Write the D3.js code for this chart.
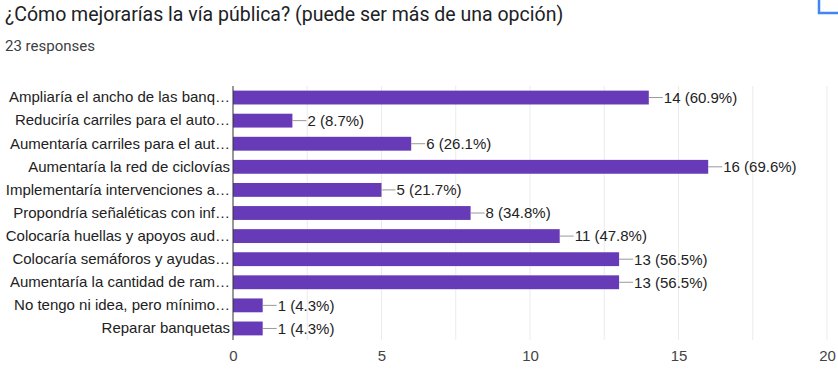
<!DOCTYPE html>
<html>
<head>
<meta charset="utf-8">
<script src="https://cdn.jsdelivr.net/npm/d3@7"></script>
<style>
  body { margin: 0; background: #fff; }
  svg { display: block; font-family: "Liberation Sans", Arial, sans-serif; }
</style>
</head>
<body>
<svg id="chart" width="838" height="377"></svg>
<script>
// data
var categories = [
  "Ampliaría el ancho de las banq…",
  "Reduciría carriles para el auto…",
  "Aumentaría carriles para el aut…",
  "Aumentaría la red de ciclovías",
  "Implementaría intervenciones a…",
  "Propondría señaléticas con inf…",
  "Colocaría huellas y apoyos aud…",
  "Colocaría semáforos y ayudas…",
  "Aumentaría la cantidad de ram…",
  "No tengo ni idea, pero mínimo…",
  "Reparar banquetas"
];
var counts = [14, 2, 6, 16, 5, 8, 11, 13, 13, 1, 1];
var percents = ["60.9", "8.7", "26.1", "69.6", "21.7", "34.8", "47.8", "56.5", "56.5", "4.3", "4.3"];
var xTicks = [0, 5, 10, 15, 20];
var gridTicks = [2.5, 5, 7.5, 10, 12.5, 15, 17.5, 20];

var svg = d3.select('#chart');
var margin = { top: 86, right: 11, bottom: 37, left: 233 };
var width = 838 - margin.left - margin.right;
var height = 377 - margin.top - margin.bottom;
var chartFont = '"Liberation Sans", Arial, sans-serif';

// header
svg.append('text')
  .attr('x', 5).attr('y', 21)
  .style('font-family', 'Roboto, Arial, sans-serif')
  .style('font-size', '19.5px').style('fill', '#202124')
  .text('¿Cómo mejorarías la vía pública? (puede ser más de una opción)');
svg.append('text')
  .attr('x', 5).attr('y', 51)
  .style('font-family', 'Roboto, Arial, sans-serif')
  .style('font-size', '15px').style('fill', '#3c4043')
  .text('23 responses');

// copy icon, cut off on the right edge
svg.append('path')
  .attr('d', 'M819,0 V13 H838')
  .attr('fill', 'none').attr('stroke', '#4285f4').attr('stroke-width', 2.5);

var g = svg.append('g').attr('transform', `translate(${margin.left},${margin.top})`);

var x = d3.scaleLinear().domain([0, 20]).range([0, width]);
var y = d3.scaleBand().domain(categories).range([0, height]).paddingInner(0.4).paddingOuter(0.2);

// grid
g.selectAll('.grid')
  .data(gridTicks)
  .enter().append('line')
  .attr('x1', d => x(d)).attr('x2', d => x(d))
  .attr('y1', 0).attr('y2', height)
  .attr('stroke', '#ebebeb').attr('stroke-width', 1);

// x labels
g.append('g')
  .attr('transform', `translate(0,${height})`)
  .call(d3.axisBottom(x).tickValues(xTicks).tickSize(0).tickPadding(10))
  .call(a => a.select('.domain').remove())
  .call(a => a.attr('font-family', null).attr('font-size', null))
  .selectAll('text')
  .style('font-size', '15px').style('fill', '#444').style('font-family', chartFont);

// y labels
g.append('g')
  .call(d3.axisLeft(y).tickSize(0).tickPadding(3))
  .call(a => a.select('.domain').remove())
  .call(a => a.attr('font-family', null).attr('font-size', null))
  .selectAll('text')
  .style('font-size', '15px').style('fill', '#222').style('font-family', chartFont);

// bars
g.selectAll('.bar')
  .data(counts)
  .enter().append('rect')
  .attr('x', 0)
  .attr('y', (d, i) => y(categories[i]))
  .attr('width', d => x(d))
  .attr('height', y.bandwidth())
  .attr('fill', '#673ab7');

// leader lines + value labels
g.selectAll('.lead')
  .data(counts)
  .enter().append('line')
  .attr('x1', d => x(d)).attr('x2', d => x(d) + 14)
  .attr('y1', (d, i) => y(categories[i]) + y.bandwidth() / 2)
  .attr('y2', (d, i) => y(categories[i]) + y.bandwidth() / 2)
  .attr('stroke', '#999').attr('stroke-width', 1);

g.selectAll('.val')
  .data(counts)
  .enter().append('text')
  .attr('x', d => x(d) + 15)
  .attr('y', (d, i) => y(categories[i]) + y.bandwidth() / 2)
  .attr('dy', '0.36em')
  .style('font-size', '15px').style('fill', '#222').style('font-family', chartFont)
  .text((d, i) => `${d} (${percents[i]}%)`);

// vertical axis line
g.append('line')
  .attr('x1', 0).attr('x2', 0).attr('y1', 0).attr('y2', height)
  .attr('stroke', '#333').attr('stroke-width', 1);
</script>
</body>
</html>
